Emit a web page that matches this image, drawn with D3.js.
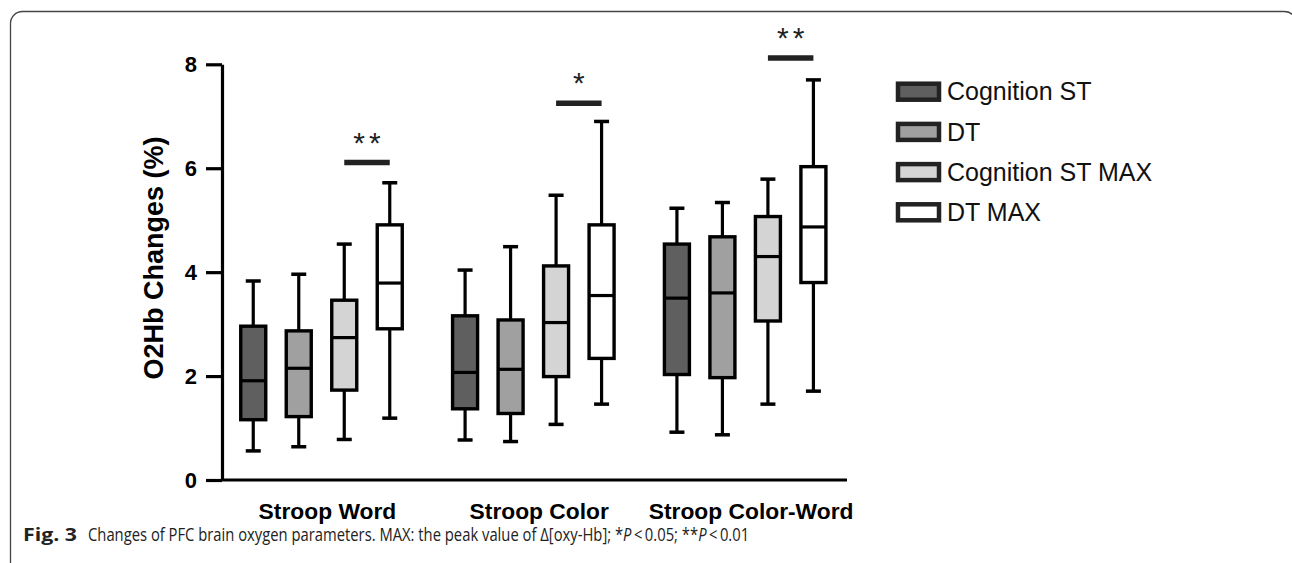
<!DOCTYPE html>
<html>
<head>
<meta charset="utf-8">
<script src="https://cdn.jsdelivr.net/npm/d3@7"></script>
<style>
  body { margin: 0; background: #fff; }
  svg { display: block; }
</style>
</head>
<body>
<script>
// categories and series
var groups = ['Stroop Word', 'Stroop Color', 'Stroop Color-Word'],
    seriesNames = ['Cognition ST', 'DT', 'Cognition ST MAX', 'DT MAX'],
    fills = ['#5f5f5f', '#a0a0a0', '#d4d4d4', '#ffffff'],
    yTicks = [0, 2, 4, 6, 8];

// [min, q1, median, q3, max] per group
var cognitionST = [[0.56, 1.16, 1.91, 2.96, 3.83], [0.77, 1.37, 2.07, 3.16, 4.04], [0.92, 2.03, 3.50, 4.54, 5.23]],
    dt = [[0.64, 1.22, 2.15, 2.87, 3.96], [0.74, 1.28, 2.13, 3.08, 4.49], [0.87, 1.97, 3.60, 4.68, 5.34]],
    cognitionSTMax = [[0.78, 1.73, 2.74, 3.46, 4.54], [1.07, 1.99, 3.03, 4.12, 5.48], [1.46, 3.06, 4.30, 5.07, 5.79]],
    dtMax = [[1.19, 2.91, 3.79, 4.91, 5.72], [1.46, 2.34, 3.55, 4.91, 6.90], [1.71, 3.80, 4.87, 6.03, 7.70]];

// significance between Cognition ST MAX and DT MAX
var sigLabels = ['**', '*', '**'],
    sigLevel = [6.11, 7.25, 8.12];

var width = 1292,
    height = 563,
    allSeries = [cognitionST, dt, cognitionSTMax, dtMax],
    y = d3.scaleLinear().domain([0, 8]).range([480, 64.3]),
    x0 = d3.scaleBand().domain(groups).range([215.5, 851]).padding(0),
    x1 = d3.scaleBand().domain(seriesNames).range([15, 197]).padding(0),
    boxW = 25,
    capW = 15,
    svg;

function init() {
    svg = d3.select('body')
        .append('svg')
        .attr('width', width)
        .attr('height', height);

    // figure frame
    svg.append('rect')
        .attr('x', 10.5).attr('y', 11.5)
        .attr('width', 1286).attr('height', 700)
        .attr('rx', 12)
        .attr('fill', 'none')
        .attr('stroke', '#444')
        .attr('stroke-width', 1.3);
}

function axes() {
    var yAxis = d3.axisLeft(y)
        .tickValues(yTicks)
        .tickSize(16)
        .tickSizeOuter(0)
        .tickPadding(9);
    var g = svg.append('g')
        .attr('transform', 'translate(222,0)')
        .call(yAxis);
    g.selectAll('path, line').attr('stroke', '#000').attr('stroke-width', 3.2);
    g.selectAll('text')
        .attr('font-family', 'Liberation Sans, Arial, sans-serif')
        .attr('font-weight', 'bold')
        .attr('font-size', 22)
        .attr('fill', '#000');

    // x baseline
    svg.append('line')
        .attr('x1', 222).attr('x2', 847)
        .attr('y1', y(0)).attr('y2', y(0))
        .attr('stroke', '#000').attr('stroke-width', 3.2);

    var xAxis = d3.axisBottom(x0).tickSize(0).tickPadding(23);
    var gx = svg.append('g')
        .attr('transform', 'translate(0,' + y(0) + ')')
        .call(xAxis);
    gx.select('.domain').remove();
    gx.selectAll('text')
        .attr('dx', 6)
        .attr('font-family', 'Liberation Sans, Arial, sans-serif')
        .attr('font-weight', 'bold')
        .attr('font-size', 22.8)
        .attr('fill', '#000');

    svg.append('text')
        .attr('transform', 'translate(163,258) rotate(-90)')
        .attr('text-anchor', 'middle')
        .attr('font-family', 'Liberation Sans, Arial, sans-serif')
        .attr('font-weight', 'bold')
        .attr('font-size', 27)
        .text('O2Hb Changes (%)');
}

function boxes() {
    var rows = [];
    allSeries.forEach(function (s, si) {
        s.forEach(function (v, gi) {
            rows.push({ g: groups[gi], s: seriesNames[si], si: si, v: v });
        });
    });
    var cx = function (d) { return x0(d.g) + x1(d.s) + x1.bandwidth() / 2; };

    var b = svg.selectAll('g.box')
        .data(rows)
        .enter()
        .append('g')
        .attr('class', 'box');

    b.append('line')
        .attr('x1', cx).attr('x2', cx)
        .attr('y1', function (d) { return y(d.v[0]); })
        .attr('y2', function (d) { return y(d.v[4]); })
        .attr('stroke', '#000').attr('stroke-width', 3.2);
    [0, 4].forEach(function (k) {
        b.append('line')
            .attr('x1', function (d) { return cx(d) - capW / 2; })
            .attr('x2', function (d) { return cx(d) + capW / 2; })
            .attr('y1', function (d) { return y(d.v[k]); })
            .attr('y2', function (d) { return y(d.v[k]); })
            .attr('stroke', '#000').attr('stroke-width', 3.5);
    });
    b.append('rect')
        .attr('x', function (d) { return cx(d) - boxW / 2; })
        .attr('y', function (d) { return y(d.v[3]); })
        .attr('width', boxW)
        .attr('height', function (d) { return y(d.v[1]) - y(d.v[3]); })
        .attr('fill', function (d) { return fills[d.si]; })
        .attr('stroke', '#000').attr('stroke-width', 3.4);
    b.append('line')
        .attr('x1', function (d) { return cx(d) - boxW / 2; })
        .attr('x2', function (d) { return cx(d) + boxW / 2; })
        .attr('y1', function (d) { return y(d.v[2]); })
        .attr('y2', function (d) { return y(d.v[2]); })
        .attr('stroke', '#000').attr('stroke-width', 3.2);

    // significance bars
    var sx = function (g, s) { return x0(g) + x1(s) + x1.bandwidth() / 2; };
    var sg = svg.selectAll('g.sig')
        .data(groups)
        .enter()
        .append('g')
        .attr('class', 'sig');
    sg.append('line')
        .attr('x1', function (g) { return sx(g, seriesNames[2]); })
        .attr('x2', function (g) { return sx(g, seriesNames[3]); })
        .attr('y1', function (g, i) { return y(sigLevel[i]); })
        .attr('y2', function (g, i) { return y(sigLevel[i]); })
        .attr('stroke', '#222').attr('stroke-width', 5.5);
    sg.append('text')
        .attr('x', function (g) { return (sx(g, seriesNames[2]) + sx(g, seriesNames[3])) / 2 + 2; })
        .attr('y', function (g, i) { return y(sigLevel[i]) - 10; })
        .attr('text-anchor', 'middle')
        .attr('font-family', 'Liberation Sans, Arial, sans-serif')
        .attr('font-size', 30)
        .attr('letter-spacing', 4)
        .attr('fill', '#222')
        .text(function (g, i) { return sigLabels[i]; });
}

function legend() {
    var lg = svg.selectAll('g.legend')
        .data(seriesNames)
        .enter()
        .append('g')
        .attr('class', 'legend')
        .attr('transform', function (d, i) { return 'translate(896,' + (91.7 + i * 40.2) + ')'; });
    lg.append('rect')
        .attr('x', 2).attr('y', -8)
        .attr('width', 41).attr('height', 16)
        .attr('fill', function (d, i) { return fills[i]; })
        .attr('stroke', '#222').attr('stroke-width', 4.5);
    lg.append('text')
        .attr('x', 51)
        .attr('y', 0)
        .attr('dy', '0.35em')
        .attr('font-family', 'Liberation Sans, Arial, sans-serif')
        .attr('font-size', 25)
        .attr('fill', '#111')
        .text(function (d) { return d; });
}

function caption() {
    var font = 'Open Sans, sans-serif';
    svg.append('text')
        .attr('x', 23).attr('y', 541)
        .attr('font-family', font)
        .attr('font-weight', 'bold')
        .attr('font-size', 18)
        .attr('textLength', 54)
        .attr('lengthAdjust', 'spacingAndGlyphs')
        .attr('fill', '#222')
        .text('Fig. 3');

    // body of the caption, squeezed horizontally to the narrow journal face
    var cg = svg.append('g').attr('transform', 'translate(88,541)');
    var t = cg.append('text')
        .attr('font-family', font)
        .attr('font-size', 17.5)
        .attr('fill', '#222');
    t.append('tspan').text('Changes of PFC brain oxygen parameters. MAX: the peak value of \u0394[oxy-Hb]; *');
    t.append('tspan').attr('font-style', 'italic').text('P');
    t.append('tspan').text('\u2009<\u20090.05; **');
    t.append('tspan').attr('font-style', 'italic').text('P');
    t.append('tspan').text('\u2009<\u20090.01');
    var w = t.node().getComputedTextLength();
    cg.attr('transform', 'translate(88,541) scale(' + (662 / w) + ',1)');
}

init();
axes();
boxes();
legend();
caption();
</script>
</body>
</html>
